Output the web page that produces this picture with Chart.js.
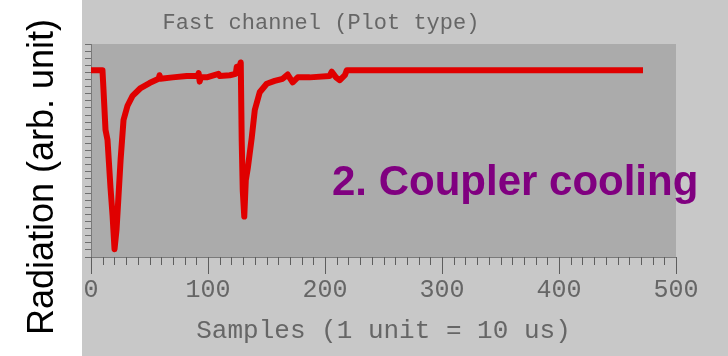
<!DOCTYPE html>
<html>
<head>
<meta charset="utf-8">
<script src="https://cdn.jsdelivr.net/npm/chart.js@4.4.1/dist/chart.umd.min.js"></script>
<style>
html, body { margin: 0; padding: 0; background: #fff; }
canvas { display: block; }
</style>
</head>
<body>
<canvas id="myChart" width="728" height="356"></canvas>
<script>
// trace: sample index and radiation (arb. unit)
const samples = [0, 9.8, 10.7, 12.4, 14.1, 16.7, 18.4, 20.1, 21.8, 22.7, 25.3, 27.8, 31.2, 35.5, 42.4,
                 50, 57.8, 58.6, 59.5, 69.8, 81.8, 91.2, 92, 92.9, 93.8, 98.9, 109, 110, 118.6, 123.7,
                 124.6, 125.4, 128, 128.8, 129.7, 131, 132.3, 134, 137.4, 140, 144.2, 150.2, 157, 163.8,
                 168.1, 172.4, 176.7, 187, 204, 205.8, 209.3, 212.7, 217, 218.6, 471.8];
const radiation = [263, 263, 235, 179, 165, 97, 59, 11, 38, 63, 137, 193, 213, 227, 238,
                   245, 251, 256, 251, 253, 255, 255, 259, 247, 253, 253, 258, 255, 256, 258,
                   268, 260, 274, 165, 94, 57, 108, 125, 168, 207, 232, 244, 248, 251,
                   257, 246, 253, 253, 255, 261, 253, 249, 256, 263, 263];
const minorStep = 10;

const chartTitle = 'Fast channel (Plot type)';
const xLabel = 'Samples (1 unit = 10 us)';
const yLabel = 'Radiation (arb. unit)';
const note = '2. Coupler cooling';

const panelPlugin = {
    id: 'panel',
    beforeDraw(chart) {
        const c = chart.ctx, a = chart.chartArea;
        c.save();
        c.fillStyle = '#c8c8c8';
        c.fillRect(0, 0, chart.width, chart.height);
        c.fillStyle = '#ababab';
        c.fillRect(a.left, a.top, a.right - a.left, a.bottom - a.top);
        c.restore();
    },
    afterDraw(chart) {
        const c = chart.ctx, a = chart.chartArea, x = chart.scales.x;
        c.save();
        // short ticks every 10 samples
        c.fillStyle = '#5e5e5e';
        for (let v = x.min; v <= x.max; v += minorStep) {
            const px = Math.round(x.getPixelForValue(v));
            c.fillRect(px, Math.round(a.bottom), 1, 8);
        }
        // title
        c.fillStyle = '#666';
        c.font = '22px "Liberation Mono"';
        c.textAlign = 'center';
        c.textBaseline = 'middle';
        c.fillText(chartTitle, 321, 23);
        // annotation
        c.fillStyle = '#800080';
        c.font = 'bold 42px "Liberation Sans"';
        c.textAlign = 'left';
        c.textBaseline = 'alphabetic';
        c.fillText(note, 332, 195);
        // white strip with the y label
        c.fillStyle = '#fff';
        c.fillRect(0, 0, 82, chart.height);
        c.translate(53, 177);
        c.rotate(-Math.PI / 2);
        c.fillStyle = '#000';
        c.font = '36px "Liberation Sans"';
        c.textAlign = 'center';
        c.fillText(yLabel, 0, 0);
        c.restore();
    }
};

function myLoadFunction() {
    const ctx = document.getElementById('myChart').getContext('2d');
    const points = samples.map((s, i) => ({ x: s, y: radiation[i] }));
    new Chart(ctx, {
        type: 'line',
        data: {
            datasets: [{
                data: points,
                borderColor: '#e00000',
                borderWidth: 6,
                borderJoinStyle: 'round',
                pointRadius: 0,
                tension: 0,
                fill: false
            }]
        },
        options: {
            responsive: false,
            animation: false,
            devicePixelRatio: 1,
            layout: { padding: { left: 85, top: 44, right: 52, bottom: 0 } },
            plugins: { legend: { display: false }, tooltip: { enabled: false } },
            scales: {
                x: {
                    type: 'linear',
                    min: 0,
                    max: 500,
                    border: { color: '#7a7a7a' },
                    grid: { drawOnChartArea: false, tickLength: 17, color: '#5e5e5e' },
                    ticks: {
                        stepSize: 100,
                        autoSkip: false,
                        maxRotation: 0,
                        padding: 1,
                        color: '#666',
                        font: { family: 'Liberation Mono', size: 25 }
                    },
                    title: {
                        display: true,
                        text: xLabel,
                        color: '#666',
                        font: { family: 'Liberation Mono', size: 26 },
                        padding: { top: 0, bottom: 9 }
                    },
                    afterFit: s => { s.height = 99; }
                },
                y: {
                    min: 0,
                    max: 300,
                    border: { color: '#7a7a7a' },
                    grid: { drawOnChartArea: false, tickLength: 6, color: '#6e6e6e' },
                    ticks: { stepSize: 10, autoSkip: false, maxTicksLimit: 100, padding: 0, callback: () => '' },
                    afterFit: s => { s.width = 6; }
                }
            }
        },
        plugins: [panelPlugin]
    });
}
document.addEventListener('DOMContentLoaded', myLoadFunction);
</script>
</body>
</html>
